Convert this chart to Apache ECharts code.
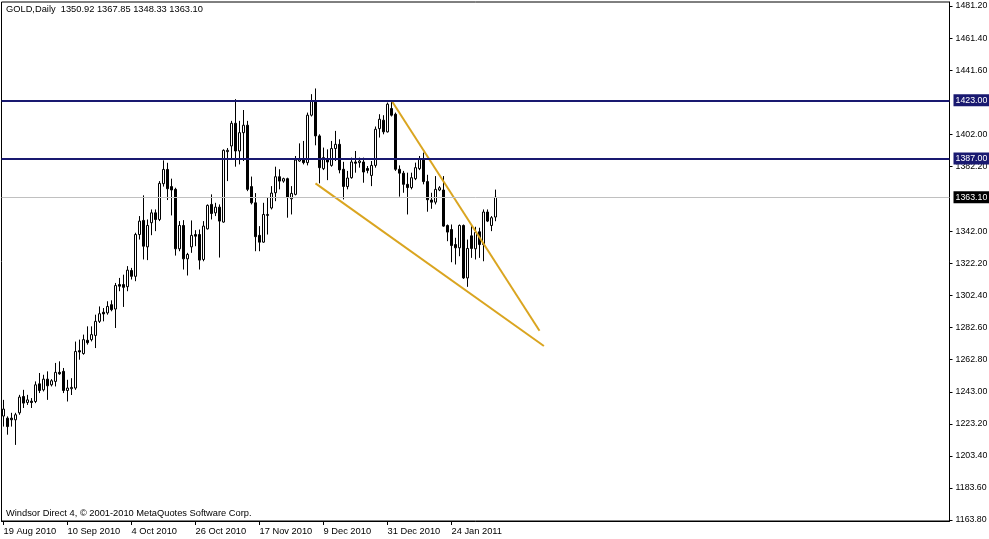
<!DOCTYPE html>
<html>
<head>
<meta charset="utf-8">
<script src="https://cdn.jsdelivr.net/npm/echarts@6/dist/echarts.min.js"></script>
<style>
html,body{margin:0;padding:0;background:#fff;}
#c{width:989px;height:539px;}
</style>
</head>
<body>
<div id="c"></div>
<script>
// ---- data ----
const dates = [
 '19 Aug 2010','20 Aug 2010','23 Aug 2010','24 Aug 2010','25 Aug 2010','26 Aug 2010','27 Aug 2010','30 Aug 2010','31 Aug 2010',
 '1 Sep 2010','2 Sep 2010','3 Sep 2010','6 Sep 2010','7 Sep 2010','8 Sep 2010','9 Sep 2010','10 Sep 2010',
 '13 Sep 2010','14 Sep 2010','15 Sep 2010','16 Sep 2010','17 Sep 2010','20 Sep 2010','21 Sep 2010','22 Sep 2010','23 Sep 2010','24 Sep 2010',
 '27 Sep 2010','28 Sep 2010','29 Sep 2010','30 Sep 2010','1 Oct 2010',
 '4 Oct 2010','5 Oct 2010','6 Oct 2010','7 Oct 2010','8 Oct 2010','11 Oct 2010','12 Oct 2010','13 Oct 2010','14 Oct 2010','15 Oct 2010',
 '18 Oct 2010','19 Oct 2010','20 Oct 2010','21 Oct 2010','22 Oct 2010','25 Oct 2010','26 Oct 2010','27 Oct 2010','28 Oct 2010','29 Oct 2010',
 '1 Nov 2010','2 Nov 2010','3 Nov 2010','4 Nov 2010','5 Nov 2010','8 Nov 2010','9 Nov 2010','10 Nov 2010','11 Nov 2010','12 Nov 2010',
 '15 Nov 2010','16 Nov 2010','17 Nov 2010','18 Nov 2010','19 Nov 2010','22 Nov 2010','23 Nov 2010','24 Nov 2010','25 Nov 2010','26 Nov 2010',
 '29 Nov 2010','30 Nov 2010','1 Dec 2010','2 Dec 2010','3 Dec 2010','6 Dec 2010','7 Dec 2010','8 Dec 2010','9 Dec 2010','10 Dec 2010',
 '13 Dec 2010','14 Dec 2010','15 Dec 2010','16 Dec 2010','17 Dec 2010','20 Dec 2010','21 Dec 2010','22 Dec 2010','23 Dec 2010','24 Dec 2010',
 '27 Dec 2010','28 Dec 2010','29 Dec 2010','30 Dec 2010','31 Dec 2010',
 '3 Jan 2011','4 Jan 2011','5 Jan 2011','6 Jan 2011','7 Jan 2011','10 Jan 2011','11 Jan 2011','12 Jan 2011','13 Jan 2011','14 Jan 2011',
 '17 Jan 2011','18 Jan 2011','19 Jan 2011','20 Jan 2011','21 Jan 2011','24 Jan 2011','25 Jan 2011','26 Jan 2011','27 Jan 2011','28 Jan 2011',
 '31 Jan 2011','1 Feb 2011','2 Feb 2011','3 Feb 2011','4 Feb 2011','7 Feb 2011','8 Feb 2011'
];

// [open, high, low, close]
const candles = [
 [1228.0,1238.0,1221.5,1232.3],[1226.7,1227.8,1216.5,1221.5],[1226.7,1230.0,1221.5,1225.7],[1225.7,1230.0,1210.2,1228.8],
 [1230.0,1241.1,1228.8,1239.7],[1240.1,1244.2,1233.0,1236.0],[1236.4,1241.1,1234.9,1238.0],[1237.2,1239.1,1233.0,1236.4],
 [1237.0,1249.4,1236.0,1247.3],[1247.9,1254.6,1242.2,1243.8],[1244.2,1253.5,1243.2,1250.8],[1250.8,1255.6,1238.0,1246.7],
 [1247.3,1250.8,1246.3,1249.8],[1249.4,1260.8,1246.3,1255.0],[1255.0,1261.8,1253.5,1254.1],[1255.6,1257.7,1242.2,1243.8],
 [1243.8,1250.4,1237.0,1245.3],[1244.9,1251.4,1241.0,1245.7],[1245.3,1274.0,1244.2,1267.9],[1268.4,1275.2,1262.8,1267.6],
 [1266.6,1278.3,1265.9,1275.2],[1274.8,1283.4,1272.1,1273.3],[1275.2,1283.4,1274.1,1278.3],[1277.8,1290.6,1270.0,1286.5],
 [1286.5,1295.7,1285.5,1291.2],[1292.1,1294.7,1286.5,1291.1],[1291.7,1298.9,1290.6,1295.7],[1296.8,1299.5,1292.7,1293.7],
 [1294.1,1310.2,1282.4,1308.6],[1309.2,1313.3,1305.1,1308.2],[1309.2,1315.3,1295.4,1307.5],[1307.9,1320.6,1305.1,1318.1],
 [1317.9,1319.5,1312.3,1314.3],[1314.3,1341.2,1311.3,1340.1],[1340.1,1351.5,1337.0,1348.4],[1348.8,1364.3,1324.7,1332.9],
 [1332.5,1349.4,1324.3,1345.7],[1347.4,1355.6,1339.7,1353.5],[1353.5,1355.6,1342.2,1349.4],[1349.4,1373.1,1348.4,1371.7],
 [1371.5,1385.9,1369.7,1380.3],[1380.3,1384.4,1361.4,1368.4],[1369.7,1374.6,1351.9,1367.6],[1368.0,1369.0,1327.1,1331.3],
 [1331.3,1348.4,1329.8,1345.7],[1345.7,1349.0,1318.5,1325.1],[1325.1,1328.8,1314.8,1327.8],[1332.5,1348.8,1328.8,1339.6],
 [1340.1,1342.8,1332.9,1339.1],[1340.1,1343.2,1318.5,1324.3],[1324.7,1348.4,1323.6,1345.3],[1343.6,1358.7,1343.2,1358.1],
 [1358.7,1364.9,1349.4,1353.1],[1353.5,1359.7,1351.5,1357.0],[1357.0,1358.7,1325.9,1348.4],[1347.8,1392.7,1347.4,1392.1],
 [1391.3,1393.5,1373.1,1392.1],[1394.8,1410.3,1386.5,1408.8],[1408.8,1423.7,1382.0,1391.7],[1391.7,1410.3,1383.4,1403.0],
 [1403.0,1417.0,1385.5,1407.6],[1407.6,1410.3,1366.9,1368.0],[1369.7,1375.9,1358.7,1359.7],[1359.7,1365.7,1329.8,1338.8],
 [1339.6,1345.3,1329.8,1335.4],[1335.4,1359.7,1335.0,1352.5],[1351.9,1362.8,1340.1,1352.5],[1356.5,1370.0,1355.6,1365.7],
 [1365.9,1382.0,1360.7,1375.8],[1375.8,1380.4,1368.0,1373.1],[1373.1,1375.2,1372.1,1374.6],[1374.6,1375.2,1350.5,1362.9],
 [1362.2,1370.0,1352.5,1365.5],[1364.9,1388.6,1364.3,1386.1],[1385.5,1396.4,1385.0,1387.0],[1386.5,1397.9,1383.4,1384.5],
 [1384.5,1415.4,1382.8,1413.8],[1413.8,1426.8,1413.0,1422.6],[1422.6,1430.3,1395.2,1401.0],[1401.0,1402.0,1371.7,1381.4],
 [1380.8,1393.8,1379.9,1387.6],[1386.5,1392.7,1373.7,1384.9],[1382.8,1397.9,1382.0,1393.2],[1393.2,1404.1,1385.5,1395.8],
 [1395.8,1398.9,1377.9,1380.0],[1380.4,1385.0,1361.8,1369.8],[1369.7,1379.4,1368.0,1375.0],[1375.2,1387.6,1374.6,1384.9],
 [1384.9,1391.7,1378.3,1384.1],[1384.5,1387.6,1381.4,1385.5],[1384.9,1387.6,1372.1,1378.7],[1380.9,1382.4,1377.9,1379.7],
 [1376.6,1385.5,1370.0,1382.8],[1382.8,1406.8,1381.4,1405.1],[1405.5,1414.4,1400.0,1411.3],[1410.7,1413.8,1402.0,1403.5],
 [1403.5,1421.6,1403.1,1420.6],[1417.9,1422.8,1413.0,1413.8],[1414.4,1415.4,1379.4,1380.4],[1380.4,1382.8,1363.5,1378.0],
 [1378.0,1379.4,1365.9,1371.1],[1371.1,1378.3,1352.5,1369.1],[1369.1,1378.3,1368.0,1375.2],[1374.6,1384.5,1373.7,1381.4],
 [1380.8,1388.6,1379.9,1386.5],[1386.5,1390.7,1371.1,1372.8],[1372.8,1377.0,1354.2,1361.6],[1361.4,1365.9,1356.0,1360.1],
 [1360.1,1376.2,1358.7,1368.0],[1367.6,1370.0,1366.9,1369.0],[1367.6,1376.2,1344.9,1345.3],[1345.7,1346.3,1336.0,1341.6],
 [1343.2,1346.3,1323.0,1333.3],[1333.9,1338.1,1321.6,1331.9],[1331.9,1346.3,1326.7,1345.7],[1345.7,1346.3,1312.7,1313.3],
 [1313.3,1337.0,1307.8,1331.5],[1339.3,1345.3,1325.7,1331.5],[1331.3,1344.9,1324.7,1341.4],[1341.8,1344.3,1325.7,1333.9],
 [1333.9,1355.6,1323.6,1354.0],[1354.0,1355.6,1347.8,1348.4],[1345.7,1351.5,1342.2,1350.5],[1350.92,1367.85,1348.33,1363.10]
];

const xTickLabels = ['19 Aug 2010','10 Sep 2010','4 Oct 2010','26 Oct 2010','17 Nov 2010','9 Dec 2010','31 Dec 2010','24 Jan 2011'];
const yTickValues = [1163.80,1183.60,1203.40,1223.20,1243.00,1262.80,1282.60,1302.40,1322.20,1342.00,1382.20,1402.00,1441.60,1461.40,1481.20];
const levelLines = [1423.00, 1387.00];
const lastPrice = 1363.10;
const trendLower = [[78, 1371.7], [135.1, 1271.3]];
const trendUpper = [[97.2, 1422.1], [134.0, 1280.7]];
const headerText = 'GOLD,Daily  1350.92 1367.85 1348.33 1363.10';
const footerText = 'Windsor Direct 4, \u00A9 2001-2010 MetaQuotes Software Corp.';

// ---- chart ----
const SLOTS = 237;
const cats = dates.slice();
for (let i = dates.length; i < SLOTS; i++) cats.push('_pad' + i);
const FONT = "'Liberation Sans', Arial, sans-serif";
const FS = 9.3;
const FSY = 8.8;
const NAVY = '#191970';
const GOLD = '#DAA520';
const isTick = function (idx, val) { return xTickLabels.indexOf(val) >= 0; };

const chart = echarts.init(document.getElementById('c'), null, {renderer: 'canvas'});
chart.setOption({
  animation: false,
  backgroundColor: '#fff',
  grid: {left: 1.5, top: 2, width: 948, height: 519, show: true, borderColor: '#000', borderWidth: 1,
    backgroundColor: '#fff', containLabel: false, outerBoundsMode: 'none'},
  xAxis: [{
    type: 'category', data: cats, boundaryGap: true,
    axisLine: {show: true, onZero: false, lineStyle: {color: '#000', width: 1}},
    axisTick: {show: true, alignWithLabel: true, interval: isTick, length: 4, lineStyle: {color: '#000'}},
    axisLabel: {show: true, interval: isTick, align: 'left', margin: 6, color: '#000', fontFamily: FONT, fontSize: FS, hideOverlap: false},
    splitLine: {show: false}
  }, {
    type: 'value', min: -0.5, max: SLOTS - 0.5, show: false, gridIndex: 0,
    axisLine: {onZero: false}
  }],
  yAxis: {
    type: 'value', position: 'right', min: 1163.2, max: 1483.7,
    axisLine: {show: true, onZero: false, lineStyle: {color: '#000', width: 1}},
    axisTick: {show: true, length: 3, customValues: yTickValues, lineStyle: {color: '#000'}},
    axisLabel: {show: true, customValues: yTickValues, formatter: function (v) { return v.toFixed(2); }, margin: 6, color: '#000', fontFamily: FONT, fontSize: FSY},
    splitLine: {show: false}
  },
  series: [
    {
      type: 'line', data: [], z: 1, silent: true,
      markLine: {
        silent: true, symbol: ['none', 'none'], animation: false,
        lineStyle: {color: '#C0C0C0', width: 1, type: 'solid'},
        label: {show: true, position: 'end', distance: 4, formatter: function (p) { return p.value.toFixed(2); },
          color: '#fff', backgroundColor: '#000', fontFamily: FONT, fontSize: FSY, padding: [2, 4, 1, 2]},
        data: [{yAxis: lastPrice}]
      }
    },
    {
      type: 'candlestick', z: 2, barWidth: 2,
      data: candles.map(function (c) { return [c[0], c[3], c[2], c[1]]; }),
      itemStyle: {color: '#fff', color0: '#000', borderColor: '#000', borderColor0: '#000', borderWidth: 1},
      markLine: {
        silent: true, symbol: ['none', 'none'], animation: false,
        lineStyle: {color: NAVY, width: 2, type: 'solid'},
        label: {show: true, position: 'end', distance: 4, formatter: function (p) { return p.value.toFixed(2); },
          color: '#fff', backgroundColor: NAVY, fontFamily: FONT, fontSize: FSY, padding: [2, 4, 1, 2]},
        data: levelLines.map(function (v) { return {yAxis: v}; })
      }
    },
    {
      type: 'line', xAxisIndex: 1, yAxisIndex: 0, data: trendLower, symbol: 'none', silent: true, z: 3,
      lineStyle: {color: GOLD, width: 2}
    },
    {
      type: 'line', xAxisIndex: 1, yAxisIndex: 0, data: trendUpper, symbol: 'none', silent: true, z: 3,
      lineStyle: {color: GOLD, width: 2}
    }
  ],
  graphic: [
    {type: 'text', left: 6, top: 5, z: 10, style: {text: headerText, font: FS + 'px ' + FONT, fill: '#000'}},
    {type: 'text', left: 6, top: 509, z: 10, style: {text: footerText, font: FS + 'px ' + FONT, fill: '#000'}}
  ]
});
</script>
</body>
</html>
